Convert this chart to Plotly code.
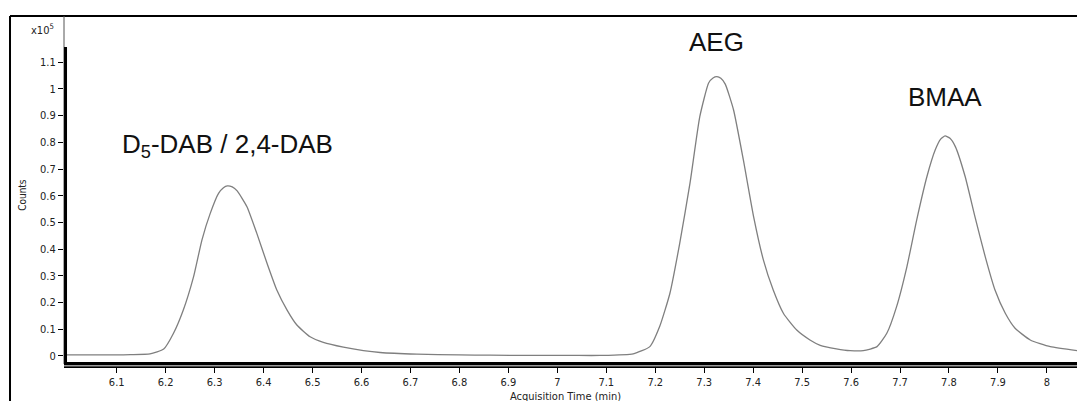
import plotly.graph_objects as go

# Data (counts in units of 1e5)
time_min = [5.993, 6.05, 6.10, 6.128, 6.168, 6.196, 6.216, 6.236, 6.257, 6.274, 6.291, 6.308,
            6.318, 6.326, 6.336, 6.346, 6.366, 6.386, 6.407, 6.427, 6.448, 6.468, 6.495, 6.522,
            6.563, 6.604, 6.638, 6.713, 6.80, 6.863, 6.95, 7.03, 7.087, 7.155, 7.189, 7.209,
            7.230, 7.250, 7.271, 7.291, 7.309, 7.318, 7.326, 7.334, 7.343, 7.360, 7.380, 7.401,
            7.421, 7.441, 7.462, 7.489, 7.516, 7.537, 7.57, 7.598, 7.625, 7.653, 7.673, 7.693,
            7.714, 7.734, 7.755, 7.772, 7.783, 7.792, 7.802, 7.813, 7.833, 7.853, 7.874, 7.894,
            7.915, 7.935, 7.966, 8.007, 8.062]
counts = [0.004, 0.004, 0.004, 0.005, 0.0075, 0.026, 0.085, 0.172, 0.297, 0.434, 0.534, 0.609,
          0.630, 0.637, 0.633, 0.618, 0.559, 0.46, 0.347, 0.247, 0.172, 0.116, 0.072, 0.051,
          0.033, 0.02, 0.013, 0.007, 0.004, 0.003, 0.002, 0.002, 0.002, 0.008, 0.035, 0.11,
          0.235, 0.422, 0.647, 0.896, 1.022, 1.041, 1.046, 1.040, 1.018, 0.921, 0.734, 0.521,
          0.359, 0.247, 0.159, 0.097, 0.06, 0.04, 0.027, 0.02, 0.02, 0.035, 0.085, 0.185,
          0.334, 0.509, 0.672, 0.772, 0.812, 0.824, 0.815, 0.784, 0.672, 0.522, 0.372, 0.247,
          0.16, 0.104, 0.06, 0.035, 0.02]

x_ticks = [6.1, 6.2, 6.3, 6.4, 6.5, 6.6, 6.7, 6.8, 6.9, 7.0, 7.1, 7.2, 7.3, 7.4, 7.5, 7.6, 7.7, 7.8, 7.9, 8.0]
x_tick_labels = ["6.1", "6.2", "6.3", "6.4", "6.5", "6.6", "6.7", "6.8", "6.9", "7", "7.1", "7.2",
                 "7.3", "7.4", "7.5", "7.6", "7.7", "7.8", "7.9", "8"]
y_ticks = [0, 0.1, 0.2, 0.3, 0.4, 0.5, 0.6, 0.7, 0.8, 0.9, 1.0, 1.1]
y_tick_labels = ["0", "0.1", "0.2", "0.3", "0.4", "0.5", "0.6", "0.7", "0.8", "0.9", "1", "1.1"]

peak_labels = ["D<sub>5</sub>-DAB / 2,4-DAB", "AEG", "BMAA"]
peak_label_x = [6.326, 7.326, 7.792]
peak_label_y = [0.79, 1.174, 0.97]

tick_font = dict(family="Liberation Sans Narrow, DejaVu Sans Condensed, sans-serif", size=11, color="#222222")

fig = go.Figure()
fig.add_trace(go.Scatter(x=time_min, y=counts, mode="lines",
                         line=dict(color="#7f7f7f", width=1.3, shape="spline", smoothing=0.5),
                         hoverinfo="skip", showlegend=False))

for t, px, py in zip(peak_labels, peak_label_x, peak_label_y):
    fig.add_annotation(x=px, y=py, xref="x", yref="y", text=t, showarrow=False,
                       font=dict(family="Liberation Sans, Arial, sans-serif", size=26, color="#111111"),
                       xanchor="center", yanchor="middle")

fig.add_annotation(x=-0.0217, y=0.962, xref="paper", yref="paper", text="x10<sup>5</sup>",
                   showarrow=False, font=tick_font, xanchor="center", yanchor="middle")
fig.add_annotation(x=-0.0405, y=0.486, xref="paper", yref="paper", text="Counts", textangle=-90,
                   showarrow=False, font=dict(family=tick_font["family"], size=10, color="#222222"),
                   xanchor="center", yanchor="middle")
fig.add_annotation(x=0.4946, y=-0.092, xref="paper", yref="paper", text="Acquisition Time (min)",
                   showarrow=False, font=dict(family=tick_font["family"], size=11, color="#222222"),
                   xanchor="center", yanchor="middle")

shapes = [
    # outer frame
    dict(type="line", xref="paper", yref="paper", x0=-0.0533, x1=1.0, y0=1.0, y1=1.0,
         line=dict(color="black", width=2)),
    dict(type="line", xref="paper", yref="paper", x0=-0.0533, x1=-0.0533, y0=-0.2, y1=1.0,
         line=dict(color="black", width=2)),
    # thin left boundary of plot area
    dict(type="line", xref="paper", yref="paper", x0=0, x1=0, y0=0, y1=1.0,
         line=dict(color="#555555", width=1)),
    # thick y-axis segment
    dict(type="line", xref="paper", yref="y", x0=0.0015, x1=0.0015, y0=-0.03, y1=1.157,
         line=dict(color="black", width=3)),
    # double x-axis line
    dict(type="line", xref="paper", yref="paper", x0=0, x1=1, y0=-0.003, y1=-0.003,
         line=dict(color="black", width=6)),
    dict(type="line", xref="paper", yref="paper", x0=0, x1=1, y0=-0.005, y1=-0.005,
         line=dict(color="#9a9a9a", width=1.5)),
]

fig.update_layout(
    width=1077, height=401,
    margin=dict(l=64, r=0, t=16, b=37),
    paper_bgcolor="white", plot_bgcolor="white",
    shapes=shapes,
    xaxis=dict(range=[5.9923, 8.0615], tickvals=x_ticks, ticktext=x_tick_labels,
               showgrid=False, zeroline=False, showline=False,
               ticks="outside", ticklen=8, tickwidth=1, tickcolor="black",
               tickfont=tick_font),
    yaxis=dict(range=[-0.030, 1.273], tickvals=y_ticks, ticktext=y_tick_labels,
               showgrid=False, zeroline=False, showline=False,
               ticks="outside", ticklen=5, tickwidth=1, tickcolor="black",
               tickfont=tick_font),
)

fig.write_html("out.html", config={"displayModeBar": False},
               post_script="document.body.style.margin='0px';document.body.style.overflow='hidden';")
